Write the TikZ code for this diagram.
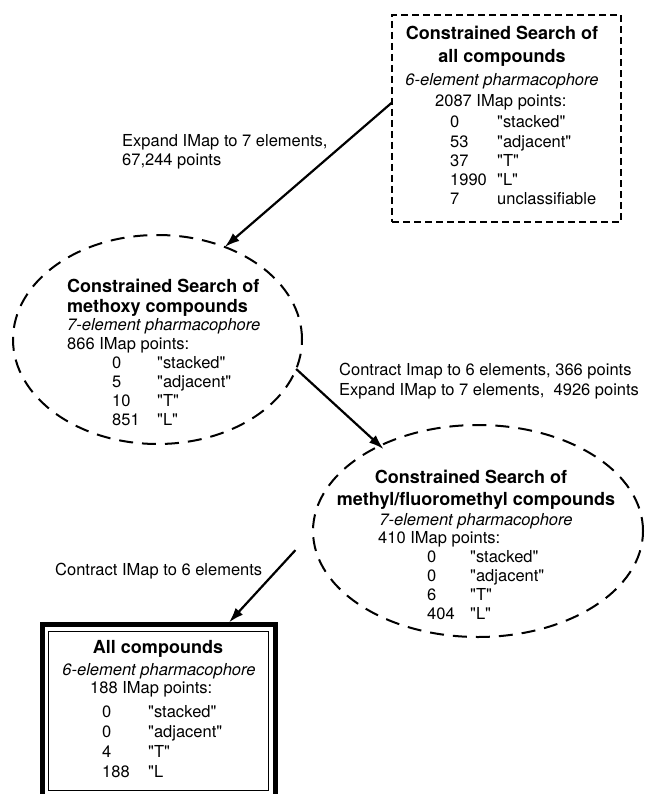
\documentclass[tikz,border=0pt]{standalone}
\usepackage{fontspec}
\setmainfont{TeX Gyre Heros}[Ligatures=TeXOff]
\usetikzlibrary{shapes.geometric,arrows.meta}

\begin{document}
\begin{tikzpicture}[x=1pt,y=-1pt,>={Latex[length=15pt,width=10pt]},
    txt/.style={font=\fontsize{16.5}{19}\selectfont,inner sep=0pt,anchor=base west},
    ttl/.style={font=\bfseries\fontsize{18}{22}\selectfont,inner sep=0pt,anchor=base},
    ital/.style={font=\itshape\fontsize{16.5}{19}\selectfont,inner sep=0pt,anchor=base},
    dbox/.style={draw,line width=1.8pt,dash pattern=on 7pt off 4pt,inner sep=0pt,outer sep=0pt},
    dell/.style={draw,ellipse,line width=2pt,dash pattern=on 14pt off 9pt,inner sep=0pt,outer sep=0pt},
    link/.style={->,line width=2.2pt}]
        \useasboundingbox (0,0) rectangle (645,794);

        % constrained search of all compounds
        \node[dbox,minimum width=229pt,minimum height=207pt] (allbox) at (506.5,118.5) {};
        \node[ttl] (allt1) at (502,40) {Constrained Search of};
        \node[ttl] (allt2) at (502,63) {all compounds};
        \node[ital] (allph) at (502,86) {6-element pharmacophore};
        \node[txt] (allpts) at (435,107) {2087 IMap points:};
        \foreach \cnt/\kind [count=\i] in {0/"stacked",53/"adjacent",37/"T",1990/"L",7/unclassifiable} {
                \node[txt] (alln\i) at (450,108.75+19.25*\i) {\cnt};
                \node[txt] (allk\i) at (497,108.75+19.25*\i) {\kind};
        }

        % methoxy compounds
        \node[dell,minimum width=289pt,minimum height=209pt] (methoxy) at (157.5,339.5) {};
        \node[ttl,anchor=base west] (met1) at (67,292) {Constrained Search of};
        \node[ttl,anchor=base west] (met2) at (67,312) {methoxy compounds};
        \node[ital,anchor=base west] (metph) at (67,330) {7-element pharmacophore};
        \node[txt] (metpts) at (67,349) {866 IMap points:};
        \foreach \cnt/\kind [count=\i] in {0/"stacked",5/"adjacent",10/"T",851/"L"} {
                \node[txt] (metn\i) at (112,349+19*\i) {\cnt};
                \node[txt] (metk\i) at (157,349+19*\i) {\kind};
        }

        % methyl/fluoromethyl compounds
        \node[dell,minimum width=330pt,minimum height=212pt] (methyl) at (478,531) {};
        \node[ttl] (mfl1) at (471,483) {Constrained Search of};
        \node[ttl] (mfl2) at (476,505) {methyl/fluoromethyl compounds};
        \node[ital] (mflph) at (476,525) {7-element pharmacophore};
        \node[txt] (mflpts) at (378,543) {410 IMap points:};
        \foreach \cnt/\kind [count=\i] in {0/"stacked",0/"adjacent",6/"T",404/"L"} {
                \node[txt] (mfln\i) at (427,543+19.2*\i) {\cnt};
                \node[txt] (mflk\i) at (470,543+19.2*\i) {\kind};
        }

        % all compounds, final result
        \node[draw,line width=4.5pt,minimum width=233pt,minimum height=185pt,inner sep=0pt] (allcmp) at (159,717.2) {};
        \node[draw,line width=0.8pt,minimum width=220pt,minimum height=159pt,inner sep=0pt] (allin) at (158,710.5) {};
        \node[ttl] (acm1) at (158,653) {All compounds};
        \node[ital] (acmph) at (159,675) {6-element pharmacophore};
        \node[txt] (acmpts) at (90,693) {188 IMap points:};
        \foreach \cnt/\kind [count=\i] in {0/"stacked",0/"adjacent",4/"T",188/"L} {
                \node[txt] (acmn\i) at (102,697+20*\i) {\cnt};
                \node[txt] (acmk\i) at (148,697+20*\i) {\kind};
        }

        % step labels
        \node[txt] (exp1a) at (122,147) {Expand IMap to 7 elements,};
        \node[txt] (exp1b) at (122,166) {67,244 points};
        \node[txt] (con1) at (339,375) {Contract Imap to 6 elements, 366 points};
        \node[txt] (exp2) at (339,395) {Expand IMap to 7 elements,\ \ 4926 points};
        \node[txt] (con2) at (55,575) {Contract IMap to 6 elements};

        % arrows between the searches
        \draw[link] ([yshift=16pt]allbox.west) -- (methoxy.54);
        \draw[link,shorten >=-5pt] (methoxy.-12) -- (methyl.139);
        \draw[link,shorten <=26pt] (methyl.west) -- ([xshift=70pt]allcmp.north);
\end{tikzpicture}
\end{document}
